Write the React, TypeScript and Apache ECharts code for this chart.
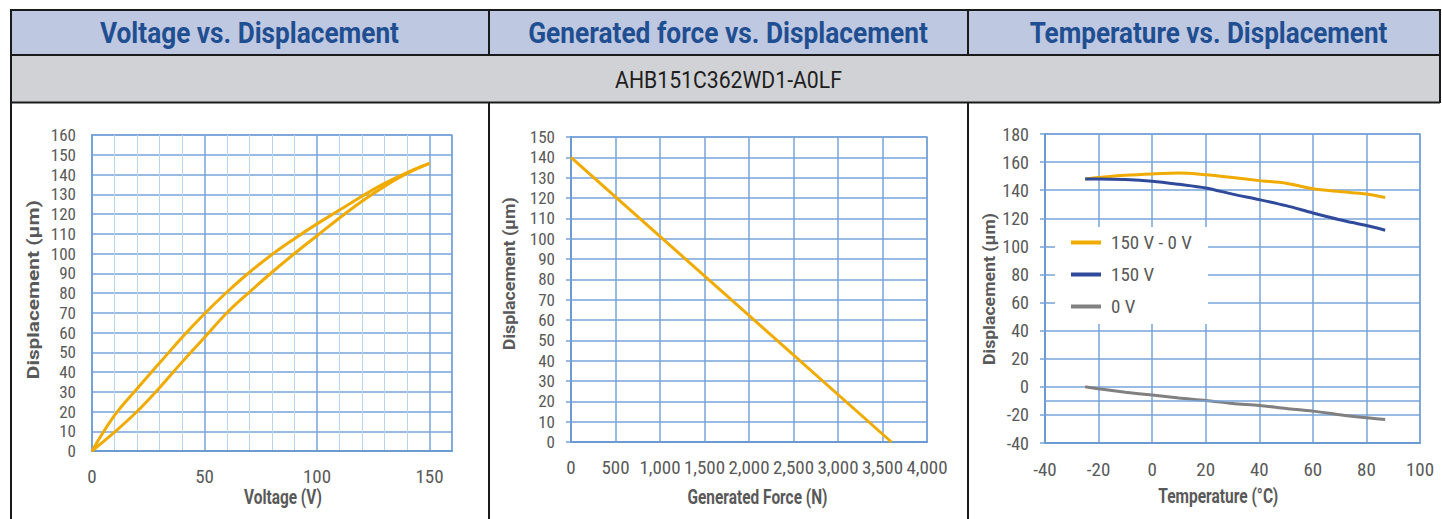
import React, { useEffect, useRef } from "react";
import * as echarts from "echarts";

// ---------- data ----------
const voltage = [0, 10, 20, 30, 40, 50, 60, 70, 80, 90, 100, 110, 120, 130, 140, 150];
const dispRising = [0, 9.5, 20, 32, 45, 57.5, 70, 80.5, 90.5, 100, 109, 118, 126.5, 134, 140.5, 145.6];
const dispFalling = [0, 18, 31.5, 44.5, 57.5, 69.5, 80.5, 90.5, 99.5, 107.5, 115, 122, 129, 135.5, 141, 145.6];

const force = [0, 3600];
const forceDisp = [140, 0];

const temperature = [-25, -20, -10, 0, 10, 20, 30, 40, 50, 60, 70, 80, 87];
const dispDiff = [148, 149, 150.6, 151.6, 152.2, 151, 149, 146.8, 145, 141, 139, 137.3, 134.8];
const disp150 = [148, 148, 147.6, 146.4, 144.2, 141.6, 137.2, 133.3, 129, 123.8, 119, 114.8, 111.5];
const disp0 = [0, -1.4, -3.8, -5.9, -8, -9.7, -11.9, -13.3, -15.4, -17.3, -19.9, -22, -23.2];

const seriesNames = ["150 V - 0 V", "150 V", "0 V"];
const headerTitles = ["Voltage vs. Displacement", "Generated force vs. Displacement", "Temperature vs. Displacement"];
const partNumber = "AHB151C362WD1-A0LF";
const xTitles = ["Voltage (V)", "Generated Force (N)", "Temperature (°C)"];
const yTitle = "Displacement (µm)";

// ---------- styles ----------
const BLUE = "#77A3D8";
const BLUE_AXIS = "#6C9AD3";
const BLUE_MINOR = "#B9D4EE";
const LABEL = "#595959";
const ORANGE = "#F0AB00";
const NAVY = "#2F4A9B";
const GRAY = "#808080";
const BORDER = "#1A1A1A";
const TICK_FONT = "'Roboto Condensed', 'Liberation Sans Narrow', 'Arial Narrow', 'DejaVu Sans Condensed', Roboto, sans-serif";
const TEXT_FONT = "Roboto";

const zip = (xs: number[], ys: number[]) => xs.map((x, i) => [x, ys[i]]);

function measure(text: string, font: string): number {
  const ctx = document.createElement("canvas").getContext("2d")!;
  ctx.font = font;
  return ctx.measureText(text).width;
}

function fittedText(
  text: string,
  x: number,
  y: number,
  size: number,
  weight: string,
  color: string,
  targetWidth: number,
  rotate = false
) {
  const w = measure(text, `${weight} ${size}px ${TEXT_FONT}`);
  const s = targetWidth / w;
  return {
    type: "text",
    x,
    y,
    scaleX: s,
    rotation: rotate ? Math.PI / 2 : 0,
    silent: true,
    z: 10,
    style: {
      text,
      fontSize: size,
      fontWeight: weight,
      fontFamily: TEXT_FONT,
      fill: color,
      textAlign: "center",
      align: "center",
      textVerticalAlign: "middle",
      verticalAlign: "middle",
    },
  };
}

const tickLabel = (extra: any = {}) => ({
  color: LABEL,
  fontSize: 18,
  fontFamily: TICK_FONT,
  ...extra,
});

function buildOption(): any {
  const line = (x1: number, y1: number, x2: number, y2: number) => ({
    type: "line",
    silent: true,
    z: 5,
    shape: { x1, y1, x2, y2 },
    style: { stroke: BORDER, lineWidth: 2 },
  });

  const graphic: any[] = [
    { type: "rect", silent: true, z: 1, shape: { x: 10, y: 9, width: 1430, height: 46 }, style: { fill: "#BFC8E1" } },
    { type: "rect", silent: true, z: 1, shape: { x: 10, y: 55, width: 1430, height: 47 }, style: { fill: "#D1D2D5" } },
    line(10, 10, 1440, 10),
    line(10, 55, 1440, 55),
    line(10, 102.5, 1440, 102.5),
    line(11, 9, 11, 519),
    line(1440, 9, 1440, 103),
    line(489, 9, 489, 55),
    line(968, 9, 968, 55),
    line(489, 102, 489, 519),
    line(968, 102, 968, 519),
    fittedText(headerTitles[0], 249.5, 33, 29, "bold", "#1F4E91", 299),
    fittedText(headerTitles[1], 728, 33, 29, "bold", "#1F4E91", 400),
    fittedText(headerTitles[2], 1208.5, 33, 29, "bold", "#1F4E91", 358),
    fittedText(partNumber, 728.5, 80, 23, "normal", "#1E1E1E", 227),
    fittedText(xTitles[0], 283, 497, 20, "bold", LABEL, 78),
    fittedText(xTitles[1], 757.5, 497, 20, "bold", LABEL, 140),
    fittedText(xTitles[2], 1218.3, 496, 20, "bold", LABEL, 120),
    fittedText(yTitle, 33, 289.7, 17, "bold", LABEL, 179, true),
    fittedText(yTitle, 509, 273.7, 17, "bold", LABEL, 153, true),
    fittedText(yTitle, 989, 289, 17, "bold", LABEL, 152, true),
  ];

  const gridBase = { show: true, borderColor: BLUE, borderWidth: 1.5, backgroundColor: "transparent", containLabel: false };

  const majorSplit = { show: true, lineStyle: { color: BLUE, width: 1.5 } };
  const axisLine = { show: true, onZero: false, lineStyle: { color: BLUE_AXIS, width: 2 } };
  const tick5 = { show: true, length: 5, lineStyle: { color: BLUE, width: 1.5 } };

  return {
    animation: false,
    backgroundColor: "#ffffff",
    graphic,
    grid: [
      { ...gridBase, left: 92, top: 135, width: 360, height: 316 },
      { ...gridBase, left: 571, top: 137, width: 356, height: 305 },
      { ...gridBase, left: 1045, top: 134, width: 375, height: 309 },
    ],
    xAxis: [
      {
        gridIndex: 0,
        type: "value",
        min: 0,
        max: 160,
        interval: 50,
        axisLine,
        axisTick: { show: false },
        axisLabel: tickLabel({ margin: 16, fontSize: 19, formatter: (v: number) => (v % 50 === 0 ? String(v) : "") }),
        splitLine: majorSplit,
        z: 2,
      },
      {
        gridIndex: 0,
        type: "value",
        min: 0,
        max: 160,
        interval: 10,
        position: "bottom",
        axisLine: { show: false },
        axisTick: { show: false },
        axisLabel: { show: false },
        splitLine: {
          show: true,
          lineStyle: { color: ["rgba(0,0,0,0)", BLUE_MINOR, BLUE_MINOR, BLUE_MINOR, BLUE_MINOR], width: 1 },
        },
        z: 1,
      },
      {
        gridIndex: 1,
        type: "value",
        min: 0,
        max: 4000,
        interval: 500,
        axisLine,
        axisTick: { show: false },
        axisLabel: tickLabel({ margin: 16, fontSize: 19, formatter: (v: number) => v.toLocaleString("en-US") }),
        splitLine: majorSplit,
      },
      {
        gridIndex: 2,
        type: "value",
        min: -40,
        max: 100,
        interval: 20,
        axisLine,
        axisTick: { show: false },
        axisLabel: tickLabel({ margin: 17, fontSize: 19 }),
        splitLine: majorSplit,
      },
    ],
    yAxis: [
      {
        gridIndex: 0,
        type: "value",
        min: 0,
        max: 160,
        interval: 10,
        axisLine,
        axisTick: { show: false },
        axisLabel: tickLabel({ margin: 16, fontSize: 17, lineHeight: 17 }),
        splitLine: majorSplit,
      },
      {
        gridIndex: 1,
        type: "value",
        min: 0,
        max: 150,
        interval: 10,
        axisLine,
        axisTick: tick5,
        axisLabel: tickLabel({ margin: 16, fontSize: 17, lineHeight: 17 }),
        splitLine: majorSplit,
      },
      {
        gridIndex: 2,
        type: "value",
        min: -40,
        max: 180,
        interval: 20,
        axisLine,
        axisTick: tick5,
        axisLabel: tickLabel({ margin: 16, fontSize: 18 }),
        splitLine: majorSplit,
      },
    ],
    legend: {
      show: true,
      data: seriesNames,
      orient: "vertical",
      left: 1055,
      top: 227,
      backgroundColor: "#ffffff",
      padding: [6, 16, 8, 16],
      itemGap: 13,
      itemWidth: 30,
      itemHeight: 4,
      icon: "rect",
      selectedMode: false,
      textStyle: { color: LABEL, fontSize: 19, fontFamily: TICK_FONT, padding: [0, 0, 0, 5] },
      z: 6,
    },
    series: [
      {
        type: "line",
        name: "Rising voltage",
        xAxisIndex: 0,
        yAxisIndex: 0,
        data: zip(voltage, dispRising),
        showSymbol: false,
        smooth: 0.4,
        lineStyle: { color: ORANGE, width: 3 },
        itemStyle: { color: ORANGE },
      },
      {
        type: "line",
        name: "Falling voltage",
        xAxisIndex: 0,
        yAxisIndex: 0,
        data: zip(voltage, dispFalling),
        showSymbol: false,
        smooth: 0.4,
        lineStyle: { color: ORANGE, width: 3 },
        itemStyle: { color: ORANGE },
      },
      {
        type: "line",
        name: "Generated force",
        xAxisIndex: 2,
        yAxisIndex: 1,
        data: zip(force, forceDisp),
        showSymbol: false,
        lineStyle: { color: ORANGE, width: 3 },
        itemStyle: { color: ORANGE },
      },
      {
        type: "line",
        name: seriesNames[0],
        xAxisIndex: 3,
        yAxisIndex: 2,
        data: zip(temperature, dispDiff),
        showSymbol: false,
        smooth: 0.3,
        z: 2,
        lineStyle: { color: ORANGE, width: 3 },
        itemStyle: { color: ORANGE },
        markLine: {
          silent: true,
          symbol: "none",
          label: { show: false },
          lineStyle: { color: BLUE, width: 1.5, type: "solid" },
          data: [{ yAxis: -10 }],
        },
      },
      {
        type: "line",
        name: seriesNames[1],
        xAxisIndex: 3,
        yAxisIndex: 2,
        data: zip(temperature, disp150),
        showSymbol: false,
        smooth: 0.3,
        z: 3,
        lineStyle: { color: NAVY, width: 3 },
        itemStyle: { color: NAVY },
      },
      {
        type: "line",
        name: seriesNames[2],
        xAxisIndex: 3,
        yAxisIndex: 2,
        data: zip(temperature, disp0),
        showSymbol: false,
        smooth: 0.3,
        z: 3,
        lineStyle: { color: GRAY, width: 3 },
        itemStyle: { color: GRAY },
      },
    ],
  };
}

export default function App() {
  const ref = useRef<HTMLDivElement>(null);
  useEffect(() => {
    document.body.style.margin = "0";
    const chart = echarts.init(ref.current!, undefined, { renderer: "svg" });
    chart.setOption(buildOption());
    return () => chart.dispose();
  }, []);
  return <div ref={ref} style={{ position: "absolute", left: 0, top: 0, width: 1442, height: 519 }} />;
}
